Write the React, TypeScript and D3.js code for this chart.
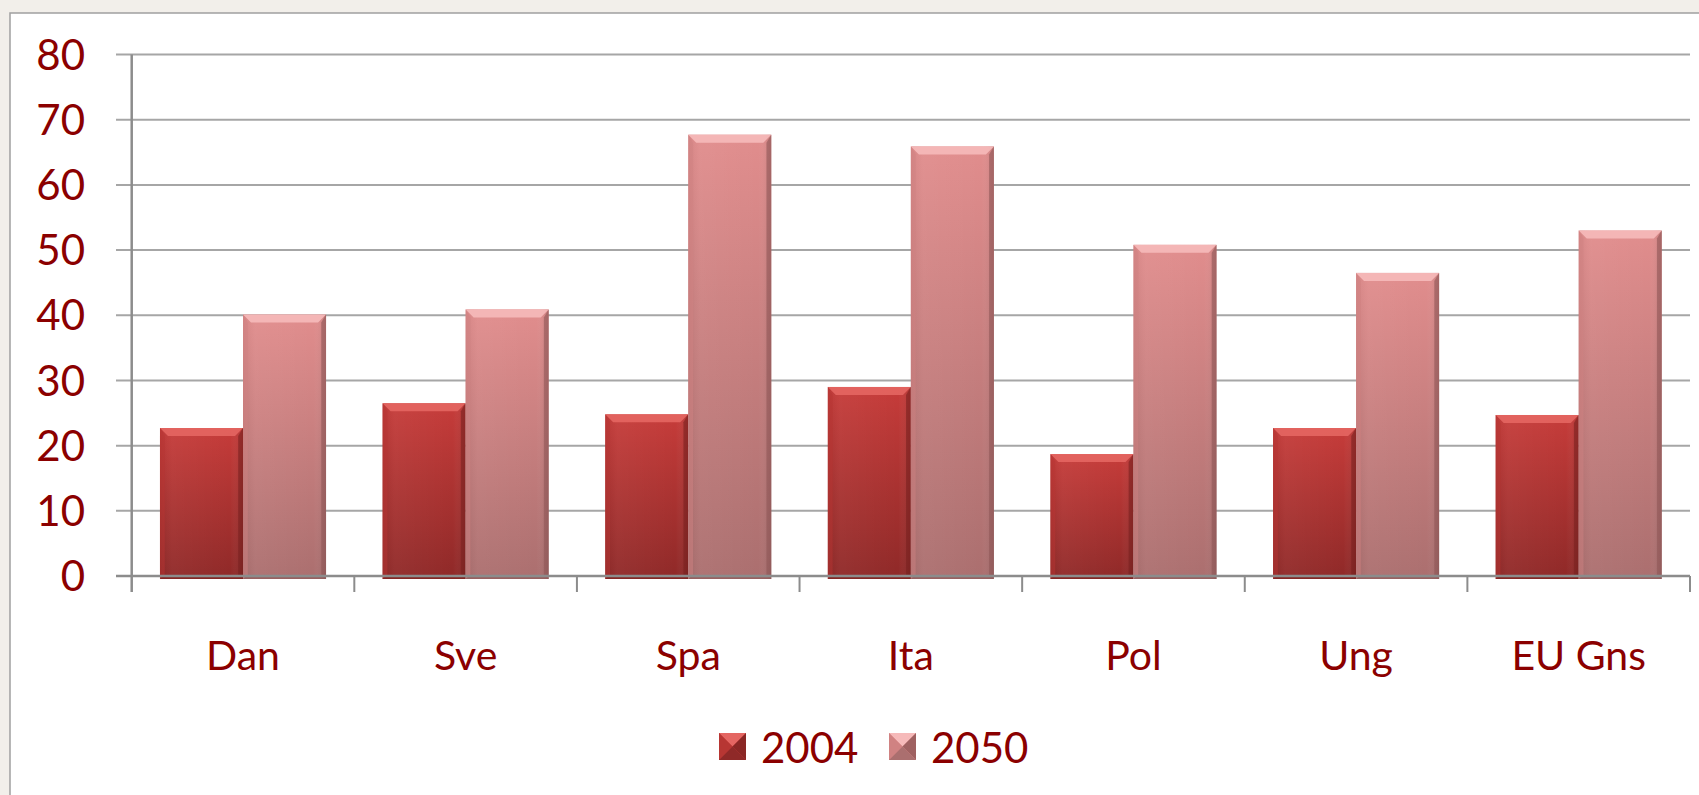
import React from "react";
import * as d3 from "d3";

const categories = ["Dan", "Sve", "Spa", "Ita", "Pol", "Ung", "EU Gns"];
const seriesNames = ["2004", "2050"];
const values2004 = [22.7, 26.5, 24.8, 29.0, 18.7, 22.7, 24.7];
const values2050 = [40.1, 40.9, 67.7, 65.9, 50.8, 46.5, 53.0];
const yTicks = [0, 10, 20, 30, 40, 50, 60, 70, 80];

const W = 1699;
const H = 795;
const FONT = "Lato, 'Open Sans', sans-serif";
const TEXT = "#8B0000";

const palettes: Record<string, { top: string; bottom: string; bevel: string; left: string; right: string; bot: string }> = {
  "2004": { top: "#c63c3a", bottom: "#8f2928", bevel: "#e46662", left: "#b73633", right: "#7a2220", bot: "#7d2321" },
  "2050": { top: "#e18d8d", bottom: "#ab6f6f", bevel: "#f6baba", left: "#d08282", right: "#8f5656", bot: "#8e5a5a" },
};

export default function App() {
  const plotLeft = 131.7;
  const plotRight = 1690;
  const y = d3.scaleLinear().domain([0, 80]).range([576, 54.5]);
  const x0 = d3.scaleBand<string>().domain(categories).range([plotLeft, plotRight]).padding(0);
  const bw = x0.bandwidth();
  const gap = bw * 0.127;
  const x1 = d3.scaleBand<string>().domain(seriesNames).range([gap, bw - gap]).padding(0);
  const data: Record<string, number[]> = { "2004": values2004, "2050": values2050 };

  const bars: React.ReactNode[] = [];
  categories.forEach((c, i) => {
    seriesNames.forEach((s) => {
      const v = data[s][i];
      const bx = (x0(c) as number) + (x1(s) as number);
      const w = x1.bandwidth();
      const top = y(v);
      const bottom = y(0) + 3;
      const h = bottom - top;
      const b = 8;
      const p = palettes[s];
      bars.push(
        <g key={c + s}>
          <rect x={bx} y={top} width={w} height={h} fill={`url(#grad${s})`} />
          <rect x={bx} y={top} width={w} height={h} fill="url(#hshade)" />
          <polygon points={`${bx},${top} ${bx + w},${top} ${bx + w - b},${top + b} ${bx + b},${top + b}`} fill={p.bevel} opacity={0.9} />
          <polygon points={`${bx},${top} ${bx + b * 0.6},${top + b} ${bx + b * 0.6},${bottom - 3} ${bx},${bottom}`} fill={p.left} opacity={0.5} />
          <polygon points={`${bx + w},${top} ${bx + w - b * 0.6},${top + b} ${bx + w - b * 0.6},${bottom - 3} ${bx + w},${bottom}`} fill={p.right} opacity={0.6} />
          <polygon points={`${bx},${bottom} ${bx + w},${bottom} ${bx + w - 3},${bottom - 3} ${bx + 3},${bottom - 3}`} fill={p.bot} opacity={0.7} />
        </g>
      );
    });
  });

  const legendItems = [
    { s: "2004", x: 719, tx: 761 },
    { s: "2050", x: 889, tx: 931 },
  ];

  return (
    <div style={{ position: "absolute", left: 0, top: 0, width: W, height: H }}>
      <svg width={W} height={H} style={{ display: "block" }}>
        <defs>
          {seriesNames.map((s) => (
            <linearGradient key={s} id={`grad${s}`} x1="0" y1="0" x2="0" y2="1">
              <stop offset="0%" stopColor={palettes[s].top} />
              <stop offset="100%" stopColor={palettes[s].bottom} />
            </linearGradient>
          ))}
          <linearGradient id="hshade" x1="0" y1="0" x2="1" y2="0">
            <stop offset="0%" stopColor="#000" stopOpacity={0.05} />
            <stop offset="15%" stopColor="#fff" stopOpacity={0.04} />
            <stop offset="85%" stopColor="#fff" stopOpacity={0.0} />
            <stop offset="100%" stopColor="#000" stopOpacity={0.12} />
          </linearGradient>
        </defs>
        <rect x={0} y={0} width={W} height={H} fill="#f2efea" />
        <rect x={10} y={13} width={W + 10} height={H + 10} fill="#ffffff" stroke="#a0a0a0" strokeWidth={1.5} />

        {/* gridlines */}
        {yTicks.map((t) => (
          <line key={t} x1={116} x2={plotRight} y1={y(t)} y2={y(t)} stroke="#a6a6a6" strokeWidth={2} />
        ))}
        {/* y tick labels */}
        {yTicks.map((t) => (
          <text key={"l" + t} x={85} y={y(t)} dy="0.36em" textAnchor="end" fontFamily={FONT} fontSize={42} fill={TEXT}>
            {t}
          </text>
        ))}

        {bars}

        {/* axes */}
        <line x1={plotLeft} x2={plotLeft} y1={y(80)} y2={592} stroke="#8c8c8c" strokeWidth={2.5} />
        <line x1={116} x2={plotRight} y1={y(0)} y2={y(0)} stroke="#8c8c8c" strokeWidth={2.5} />
        {categories.map((c) => (
          <line key={"t" + c} x1={(x0(c) as number) + bw} x2={(x0(c) as number) + bw} y1={y(0)} y2={592} stroke="#8c8c8c" strokeWidth={2} />
        ))}
        {categories.map((c) => (
          <text key={"c" + c} x={(x0(c) as number) + bw / 2} y={670} textAnchor="middle" fontFamily={FONT} fontSize={41} fill={TEXT}>
            {c}
          </text>
        ))}

        {/* legend */}
        {legendItems.map(({ s, x, tx }) => {
          const sz = 27;
          const ly = 733;
          const cx = x + sz / 2;
          const cy = ly + sz / 2;
          const p = palettes[s];
          return (
            <g key={"lg" + s}>
              <rect x={x} y={ly} width={sz} height={sz} fill={p.top} />
              <polygon points={`${x},${ly} ${x + sz},${ly} ${cx},${cy}`} fill={p.bevel} />
              <polygon points={`${x},${ly} ${x},${ly + sz} ${cx},${cy}`} fill={p.left} />
              <polygon points={`${x + sz},${ly} ${x + sz},${ly + sz} ${cx},${cy}`} fill={p.right} opacity={0.8} />
              <polygon points={`${x},${ly + sz} ${x + sz},${ly + sz} ${cx},${cy}`} fill={p.bottom} />
              <text x={tx} y={763} fontFamily={FONT} fontSize={42} fill={TEXT}>
                {s}
              </text>
            </g>
          );
        })}
      </svg>
    </div>
  );
}
